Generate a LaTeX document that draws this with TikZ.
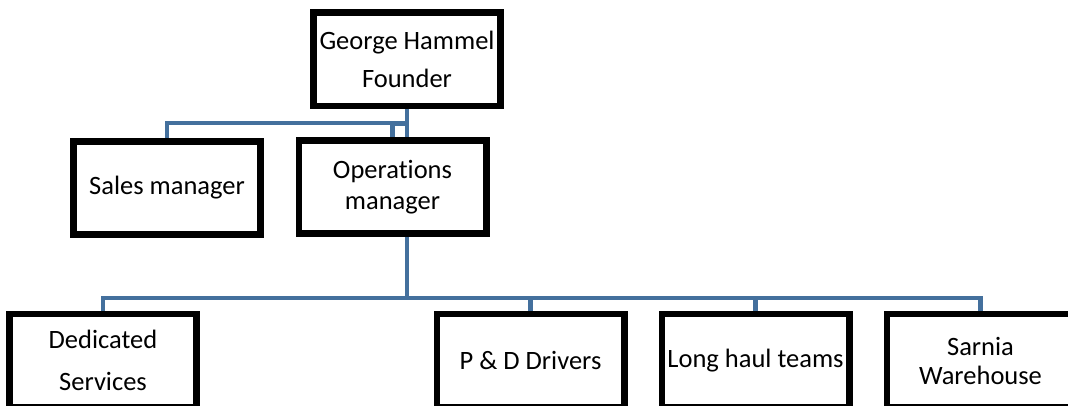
\documentclass[tikz,border=0pt]{standalone}
\usepackage{fontspec}
\setmainfont{Carlito}[Ligatures=NoCommon]
\usetikzlibrary{positioning, calc}
\definecolor{linkblue}{HTML}{44709D}

\begin{document}
\begin{tikzpicture}[
  x=1pt, y=-1pt,
  post/.style={draw=black, line width=4.5pt, fill=white, minimum width=185pt,
               minimum height=91pt, align=center, inner sep=0pt,
               font=\fontsize{26.5}{31}\selectfont},
  link/.style={draw=linkblue, line width=4.5pt},
]
  \useasboundingbox (0,0) rectangle (1068,406);
  \clip (0,0) rectangle (1068,406);
  % Top
  \node[post] (founder) at (407,59.5) {George Hammel\\[7pt]Founder};
  % Second row
  \node[post] (sales) at (167,188) {Sales manager};
  \node[post] (ops) at (392.5,187) {Operations\\manager};
  % Third row
  \node[post] (ded) at (103,360.5) {Dedicated\\[11pt]Services};
  \node[post] (pd) at (530.5,360.5) {P \& D Drivers};
  \node[post] (lh) at (755.5,360.5) {Long haul teams};
  \node[post] (sar) at (980.5,360.5) {Sarnia\\[-2pt]Warehouse};
  % Links from founder
  \draw[link] (founder.south) -- (founder.south |- ops.north);
  \draw[link] (founder.south) |- ($(sales.north)+(0,-17)$) -- (sales.north);
  \draw[link] ($(founder.south)+(0,17)$) -| (ops.north);
  % Links from operations
  \coordinate (opsout) at (founder.south |- ops.south);
  \draw[link] (opsout) -- ++(0,63) -| (ded.north);
  \draw[link] (opsout) ++(0,63) -| (pd.north);
  \draw[link] (opsout) ++(0,63) -| (lh.north);
  \draw[link] (opsout) ++(0,63) -| (sar.north);
  % Box borders over the link ends
  \foreach \n in {founder, sales, ops, ded, pd, lh, sar}
    \draw[line width=4.5pt] (\n.north west) rectangle (\n.south east);
\end{tikzpicture}
\end{document}
